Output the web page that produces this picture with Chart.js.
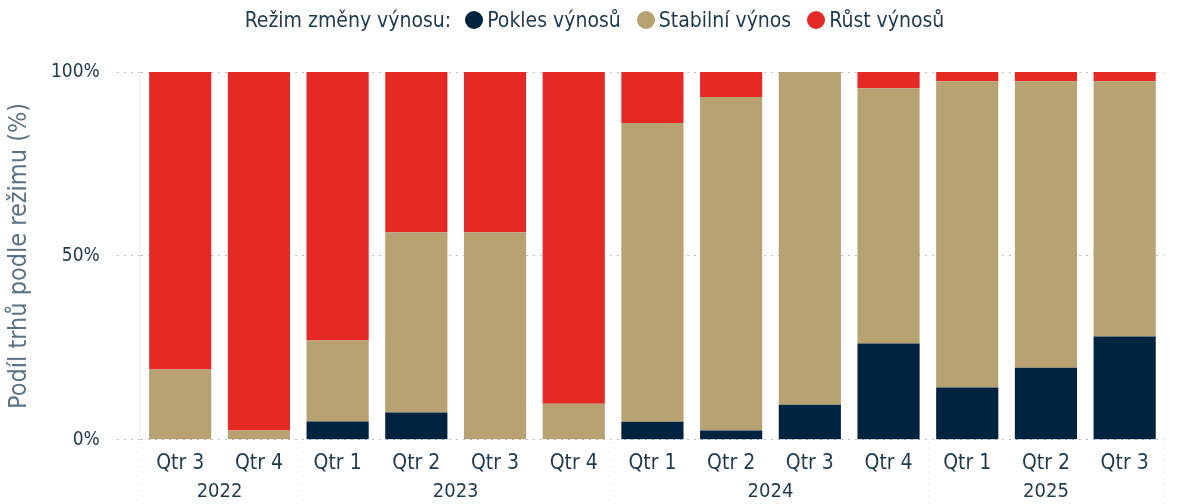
<!DOCTYPE html>
<html>
<head>
<meta charset="utf-8">
<script src="https://cdn.jsdelivr.net/npm/chart.js@4/dist/chart.umd.min.js"></script>
<style>
  html, body { margin: 0; padding: 0; background: #fff; }
  #wrap { position: relative; width: 1179px; height: 504px; }
  #legend {
    position: absolute; top: 8px; left: 0; width: 1179px;
    display: flex; justify-content: center; align-items: center;
    font-family: "DejaVu Sans Condensed", sans-serif;
    font-size: 21px; color: #1e3a4f; padding-left: 26px; box-sizing: border-box;
  }
  #legend .title { margin-right: 14px; }
  #legend .item { display: flex; align-items: center; margin-right: 16px; }
  #legend .dot { width: 18px; height: 18px; border-radius: 50%; margin-right: 4px; }
</style>
</head>
<body>
<div id="wrap">
  <div id="legend"></div>
  <canvas id="chart" width="1179" height="504"></canvas>
</div>
<script>
document.addEventListener('DOMContentLoaded', function () {
    // --- Data ---
    const quarters = ['Qtr 3', 'Qtr 4', 'Qtr 1', 'Qtr 2', 'Qtr 3', 'Qtr 4', 'Qtr 1', 'Qtr 2', 'Qtr 3', 'Qtr 4', 'Qtr 1', 'Qtr 2', 'Qtr 3'];
    const years = ['2022', '2023', '2024', '2025'];
    const yearSizes = [2, 4, 4, 3];
    const poklesVynosu = [0, 0, 5, 7.4, 0, 0, 4.9, 2.5, 9.5, 26.2, 14.2, 19.6, 28.1];
    const stabilniVynos = [19.1, 2.5, 22, 49, 56.4, 9.8, 81.2, 90.7, 90.5, 69.4, 83.3, 77.9, 69.4];
    const rustVynosu = [80.9, 97.5, 73, 43.6, 43.6, 90.2, 13.9, 6.8, 0, 4.4, 2.5, 2.5, 2.5];
    const yTicks = [0, 50, 100];

    const legendTitle = 'Režim změny výnosu:';
    const seriesNames = ['Pokles výnosů', 'Stabilní výnos', 'Růst výnosů'];
    const seriesColors = ['#002340', '#b8a272', '#e52a24'];

    const FONT = '"DejaVu Sans Condensed", sans-serif';
    const TEXT = '#1e3a4f';

    // --- Legend (HTML) ---
    const legendEl = document.getElementById('legend');
    let html = `<span class="title">${legendTitle}</span>`;
    seriesNames.forEach((name, i) => {
        html += `<span class="item"><span class="dot" style="background:${seriesColors[i]}"></span>${name}</span>`;
    });
    legendEl.innerHTML = html;

    // --- Year labels + group separators under the x axis ---
    const yearAxisPlugin = {
        id: 'yearAxis',
        afterDraw(chart) {
            const x = chart.scales.x;
            const ctx = chart.ctx;
            const half = (x.getPixelForValue(1) - x.getPixelForValue(0)) / 2;
            const top = chart.chartArea.bottom + 2;
            const bottom = chart.height;
            ctx.save();
            ctx.strokeStyle = '#d0d4d8';
            ctx.lineWidth = 1;
            ctx.setLineDash([1, 5]);
            let start = 0;
            const bounds = [x.getPixelForValue(0) - half];
            years.forEach((yr, g) => {
                const end = start + yearSizes[g] - 1;
                const left = x.getPixelForValue(start) - half;
                const right = x.getPixelForValue(end) + half;
                bounds.push(right);
                ctx.fillStyle = TEXT;
                ctx.font = '20px ' + FONT;
                ctx.textAlign = 'center';
                ctx.textBaseline = 'middle';
                ctx.fillText(yr, (left + right) / 2, 492);
                start = end + 1;
            });
            bounds.forEach(b => {
                ctx.beginPath();
                ctx.moveTo(Math.round(b) + 0.5, top);
                ctx.lineTo(Math.round(b) + 0.5, bottom);
                ctx.stroke();
            });
            ctx.restore();
        }
    };

    new Chart(document.getElementById('chart'), {
        type: 'bar',
        data: {
            labels: quarters,
            datasets: [
                { label: seriesNames[0], data: poklesVynosu, backgroundColor: seriesColors[0] },
                { label: seriesNames[1], data: stabilniVynos, backgroundColor: seriesColors[1] },
                { label: seriesNames[2], data: rustVynosu, backgroundColor: seriesColors[2] }
            ]
        },
        options: {
            responsive: false,
            animation: false,
            layout: { padding: { top: 72, bottom: 17, right: 15, left: 0 } },
            datasets: { bar: { categoryPercentage: 0.79, barPercentage: 1.0 } },
            plugins: {
                legend: { display: false },
                tooltip: { enabled: false }
            },
            scales: {
                x: {
                    stacked: true,
                    grid: { display: false, drawTicks: false },
                    border: { display: false },
                    ticks: { color: TEXT, font: { family: FONT, size: 21 }, padding: 11, maxRotation: 0 }
                },
                y: {
                    stacked: true,
                    min: 0, max: 100,
                    afterBuildTicks: axis => { axis.ticks = yTicks.map(v => ({ value: v })); },
                    grid: {
                        color: '#b8bcc0',
                        tickLength: 24,
                        tickBorderDash: [2, 5],
                        drawTicks: true
                    },
                    border: { display: true, dash: [2, 5], color: '#eef0f2' },
                    ticks: {
                        color: TEXT, font: { family: FONT, size: 19 }, padding: 17,
                        callback: v => v + '%'
                    },
                    title: {
                        display: true, text: 'Podíl trhů podle režimu (%)',
                        color: '#5c7385', font: { family: FONT, size: 25 }, padding: { top: 4, bottom: 0 }
                    }
                }
            }
        },
        plugins: [yearAxisPlugin]
    });
});
</script>
</body>
</html>
